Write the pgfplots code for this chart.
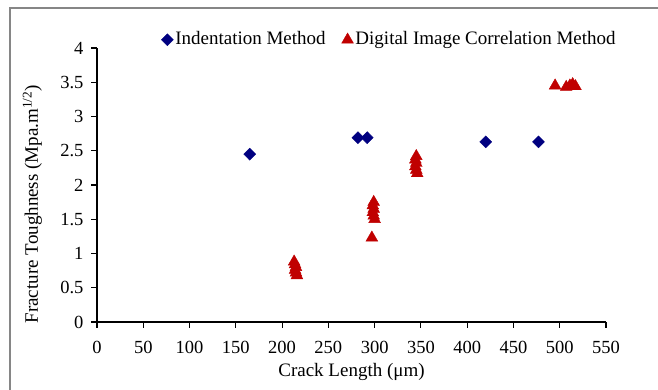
\documentclass[border=0pt]{standalone}
\usepackage{pgfplots}
\pgfplotsset{compat=1.18}
\usepackage{fontspec}
\setmainfont{Liberation Serif}

\definecolor{indnavy}{RGB}{0,0,128}
\definecolor{dicred}{RGB}{192,0,0}
\definecolor{framegray}{RGB}{134,134,134}

% Indentation method measurements
\pgfplotstableread{
x y
165 2.45
282 2.69
292 2.69
420 2.63
477 2.63
}\indentdata

% Digital image correlation measurements
\pgfplotstableread{
x y
213 0.88
214 0.84
215 0.80
214 0.76
215 0.72
216 0.68
297 1.23
299 1.75
298 1.70
299 1.65
298 1.60
299 1.55
300 1.50
345 2.42
344 2.37
345 2.32
344 2.27
345 2.22
346 2.17
495 3.45
507 3.43
511 3.45
514 3.47
517 3.44
}\dicdata

\begin{document}
\begin{tikzpicture}[x=1pt,y=1pt]
\fontsize{19}{22}\selectfont
\fill[white] (0,0) rectangle (658,390);
\useasboundingbox (0,0) rectangle (658,390);
\draw[framegray,line width=1.4pt] (10,-5) -- (10,382) -- (665,382);
\begin{axis}[
  at={(97pt,68pt)}, anchor=origin,
  scale only axis,
  width=509pt, height=274pt,
  xmin=0, xmax=550, ymin=0, ymax=4,
  xtick={0,50,...,550},
  ytick={0,0.5,...,4},
  axis lines=left,
  axis line style={line width=1.1pt, -},
  tick style={black, line width=1.1pt},
  tick align=outside,
  major tick length=6pt,
  /pgf/number format/assume math mode=true,
  ticklabel style={font=\fontsize{18.5}{21}\selectfont},
  xticklabel style={yshift=-7pt},
  yticklabel style={xshift=-1pt},
  xlabel={Crack Length (μm)},
  ylabel={Fracture Toughness (Mpa.m\textsuperscript{1/2})},
  label style={font=\fontsize{19}{22}\selectfont},
  every axis x label/.style={at={(axis description cs:0.5,-0.182)}, anchor=center},
  every axis y label/.style={at={(axis description cs:-0.127,0.43)}, anchor=center, rotate=90},
  legend columns=2,
  legend style={draw=none, fill=none, at={(axis description cs:0.126,1.03)}, anchor=west,
    font=\fontsize{19}{22}\selectfont,
    /tikz/every even column/.append style={column sep=14pt},
    inner sep=0pt},
  legend image code/.code={\draw[#1] plot coordinates {(4pt,0pt)};},
  clip=false,
]
\addplot[only marks, mark=diamond*, mark size=6pt, color=indnavy,
  mark options={xscale=1.33, fill=indnavy, draw=indnavy}] table[x=x,y=y] {\indentdata};
\addlegendentry{Indentation Method}
\addplot[only marks, mark=triangle*, mark size=6.8pt, color=dicred,
  mark options={fill=dicred, draw=dicred}] table[x=x,y=y] {\dicdata};
\addlegendentry{Digital Image Correlation Method}
\end{axis}
\end{tikzpicture}
\end{document}
